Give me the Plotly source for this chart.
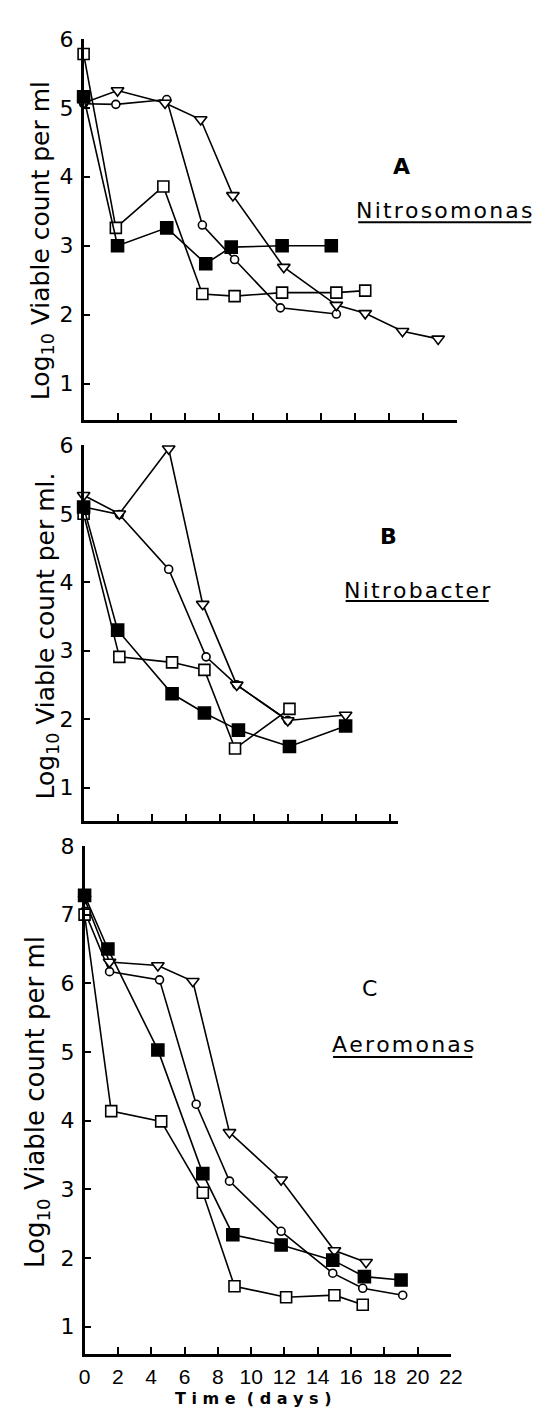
import plotly.graph_objects as go

# ---------------- data ----------------
# Panel A  - Nitrosomonas
A_circle_day = [0, 1.9, 4.9, 7.0, 8.9, 11.6, 14.9]
A_circle_log = [5.06, 5.05, 5.12, 3.3, 2.8, 2.1, 2.01]
A_tri_day = [0, 2.0, 4.8, 6.9, 8.8, 11.8, 14.9, 16.6, 18.8, 20.9]
A_tri_log = [5.07, 5.25, 5.07, 4.83, 3.73, 2.69, 2.14, 2.02, 1.76, 1.65]
A_osq_day = [0, 1.9, 4.7, 7.0, 8.9, 11.7, 14.9, 16.6]
A_osq_log = [5.78, 3.26, 3.86, 2.30, 2.27, 2.32, 2.32, 2.35]
A_fsq_day = [0, 2.0, 4.9, 7.2, 8.7, 11.7, 14.6]
A_fsq_log = [5.16, 3.0, 3.26, 2.74, 2.98, 3.0, 3.0]

# Panel B  - Nitrobacter
B_circle_day = [0, 2.1, 5.0, 7.2, 9.0, 12.0]
B_circle_log = [5.1, 4.99, 4.19, 2.91, 2.5, 1.98]
B_tri_day = [0, 2.1, 5.0, 7.0, 9.0, 12.0, 15.4]
B_tri_log = [5.27, 5.0, 5.95, 3.68, 2.5, 1.98, 2.06]
B_osq_day = [0, 2.1, 5.2, 7.1, 8.9, 12.1]
B_osq_log = [5.0, 2.91, 2.83, 2.72, 1.57, 2.15]
B_fsq_day = [0, 2.0, 5.2, 7.1, 9.1, 12.1, 15.4]
B_fsq_log = [5.1, 3.3, 2.37, 2.09, 1.84, 1.6, 1.9]

# Panel C  - Aeromonas
C_circle_day = [0, 1.5, 4.5, 6.7, 8.7, 11.8, 14.9, 16.7, 19.1]
C_circle_log = [7.05, 6.17, 6.05, 4.24, 3.12, 2.39, 1.78, 1.56, 1.46]
C_tri_day = [0, 1.5, 4.4, 6.5, 8.7, 11.8, 15.0, 16.9]
C_tri_log = [7.23, 6.31, 6.26, 6.03, 3.83, 3.14, 2.11, 1.94]
C_osq_day = [0, 1.6, 4.6, 7.1, 9.0, 12.1, 15.0, 16.7]
C_osq_log = [7.0, 4.14, 3.99, 2.95, 1.59, 1.43, 1.46, 1.32]
C_fsq_day = [0, 1.4, 4.4, 7.1, 8.9, 11.8, 14.9, 16.8, 19.0]
C_fsq_log = [7.28, 6.5, 5.03, 3.23, 2.34, 2.19, 1.97, 1.73, 1.68]

x_ticks_A = [2, 4, 6, 8, 10, 12, 14, 16, 18, 20, 22]
x_ticks_B = [2, 4, 6, 8, 10, 12, 14, 16, 18]
x_ticks_C = [0, 2, 4, 6, 8, 10, 12, 14, 16, 18, 20, 22]
y_ticks_AB = [1, 2, 3, 4, 5, 6]
y_ticks_C = [1, 2, 3, 4, 5, 6, 7, 8]

panel_letters = ["A", "B", "C"]
organisms = ["Nitrosomonas", "Nitrobacter", "Aeromonas"]
y_titles = ["Log<sub>10</sub> Viable count per ml",
            "Log<sub>10</sub> Viable count per ml.",
            "Log<sub>10</sub> Viable count per ml"]
x_title = "T i m e  ( d a y s )"

# ---------------- layout helpers ----------------
W, H = 543, 1411
FONT = "DejaVu Sans"


def px(x):
    return x / W


def py(y):
    return 1 - y / H


fig = go.Figure()

series_style = {
    "circle": dict(symbol="circle", size=8, color="white"),
    "tri": dict(symbol="triangle-down", size=11, color="white"),
    "osq": dict(symbol="square", size=11, color="white"),
    "fsq": dict(symbol="square", size=12, color="black"),
}

panels = [
    ("x", "y", [(A_circle_day, A_circle_log, "circle"), (A_tri_day, A_tri_log, "tri"),
                (A_osq_day, A_osq_log, "osq"), (A_fsq_day, A_fsq_log, "fsq")]),
    ("x2", "y2", [(B_circle_day, B_circle_log, "circle"), (B_tri_day, B_tri_log, "tri"),
                  (B_osq_day, B_osq_log, "osq"), (B_fsq_day, B_fsq_log, "fsq")]),
    ("x3", "y3", [(C_circle_day, C_circle_log, "circle"), (C_tri_day, C_tri_log, "tri"),
                  (C_osq_day, C_osq_log, "osq"), (C_fsq_day, C_fsq_log, "fsq")]),
]

for xa, ya, series in panels:
    for xs, ys, kind in series:
        st = series_style[kind]
        fig.add_trace(go.Scatter(
            x=xs, y=ys, xaxis=xa, yaxis=ya, mode="lines+markers",
            line=dict(color="black", width=1.6),
            marker=dict(symbol=st["symbol"], size=st["size"], color=st["color"],
                        line=dict(color="black", width=1.6)),
            hoverinfo="skip", showlegend=False, cliponaxis=False,
        ))

common_x = dict(showline=True, linecolor="black", linewidth=2.5, ticks="inside",
                ticklen=7, tickwidth=2, tickcolor="black", showgrid=False,
                zeroline=False, mirror=False)
common_y = dict(showline=True, linecolor="black", linewidth=2.5, ticks="inside",
                ticklen=7, tickwidth=2, tickcolor="black", showgrid=False,
                zeroline=False, mirror=False, ticklabelstandoff=3,
                tickfont=dict(family=FONT, size=22, color="black"))

fig.update_layout(
    width=W, height=H, margin=dict(l=0, r=0, t=0, b=0),
    paper_bgcolor="white", plot_bgcolor="white", showlegend=False,
    xaxis=dict(common_x, domain=[px(72), px(458)], range=[0, 22], anchor="y",
               tickvals=x_ticks_A, showticklabels=False),
    yaxis=dict(common_y, domain=[py(403), py(19)], range=[0.48, 6], anchor="x",
               tickvals=y_ticks_AB),
    xaxis2=dict(common_x, domain=[px(72), px(397)], range=[0, 18.47], anchor="y2",
                tickvals=x_ticks_B, showticklabels=False),
    yaxis2=dict(common_y, domain=[py(808), py(429)], range=[0.51, 6], anchor="x2",
                tickvals=y_ticks_AB),
    xaxis3=dict(common_x, domain=[px(73), px(452)], range=[0, 22], anchor="y3",
                tickvals=x_ticks_C, ticklabelstandoff=2,
                tickfont=dict(family="Liberation Sans", size=21, color="black")),
    yaxis3=dict(common_y, domain=[py(1345), py(833)], range=[0.61, 8], anchor="x3",
                tickvals=y_ticks_C),
)

annotations = []
# y axis titles
title_pos = [(29, 223), (34, 621), (24, 1091)]
title_size = [25, 25, 26]
for title, (xc, yc), fs in zip(y_titles, title_pos, title_size):
    annotations.append(dict(text=title, x=px(xc), y=py(yc), xref="paper", yref="paper",
                            textangle=-90, showarrow=False, xanchor="center", yanchor="middle",
                            font=dict(family=FONT, size=fs, color="black")))
# x axis title
annotations.append(dict(text="<b>" + x_title + "</b>", x=px(247), y=py(1390), xref="paper",
                        yref="paper", showarrow=False, xanchor="center", yanchor="middle",
                        font=dict(family=FONT, size=16, color="black")))
# panel letters and organism names
letter_pos = [(401, 148), (387, 521), (368, 977)]
letter_bold = [True, True, False]
name_pos = [(445, 192), (417, 575), (402, 1033)]
underline = [(356, 535, 204), (343, 491, 586), (330, 474, 1046)]
HS = "\u200a"
for i in range(3):
    t = panel_letters[i]
    annotations.append(dict(text=("<b>%s</b>" % t) if letter_bold[i] else t,
                            x=px(letter_pos[i][0]), y=py(letter_pos[i][1]), xref="paper",
                            yref="paper", showarrow=False, xanchor="center", yanchor="middle",
                            font=dict(family=FONT, size=22, color="black")))
    annotations.append(dict(text=HS.join(organisms[i]), x=px(name_pos[i][0]),
                            y=py(name_pos[i][1]), xref="paper", yref="paper", showarrow=False,
                            xanchor="center", yanchor="middle",
                            font=dict(family=FONT, size=22, color="black")))

shapes = []
for x0, x1, yy in underline:
    shapes.append(dict(type="line", xref="paper", yref="paper", x0=px(x0), x1=px(x1),
                       y0=py(yy), y1=py(yy), line=dict(color="black", width=2)))

fig.update_layout(annotations=annotations, shapes=shapes)

fig.write_html("out.html")
